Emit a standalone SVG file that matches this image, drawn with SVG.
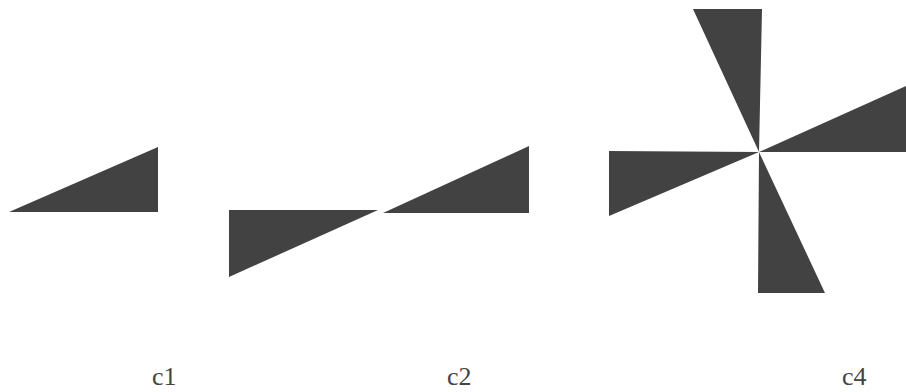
<svg xmlns="http://www.w3.org/2000/svg" width="906" height="392" viewBox="0 0 906 392">
<style>
.t{fill:#424242}
.lbl{font-family:"Liberation Serif",serif;font-size:26px;fill:#444}
</style>
<rect width="906" height="392" fill="#fff"/>
<g id="c1">
<polygon class="t" points="9,212 158,147 158,212"/>
<text class="lbl" x="152" y="385">c1</text>
</g>
<g id="c2">
<polygon class="t" points="229,210 378,210 229,277"/>
<polygon class="t" points="383,213 529,146 529,213"/>
<text class="lbl" x="447" y="385">c2</text>
</g>
<g id="c4">
<polygon class="t" points="759,152 693,9 762,9"/>
<polygon class="t" points="759,152 906,86 906,152"/>
<polygon class="t" points="759,152 609,151 609,216"/>
<polygon class="t" points="759,152 825,293 758,293"/>
<text class="lbl" x="842" y="385">c4</text>
</g>
</svg>
